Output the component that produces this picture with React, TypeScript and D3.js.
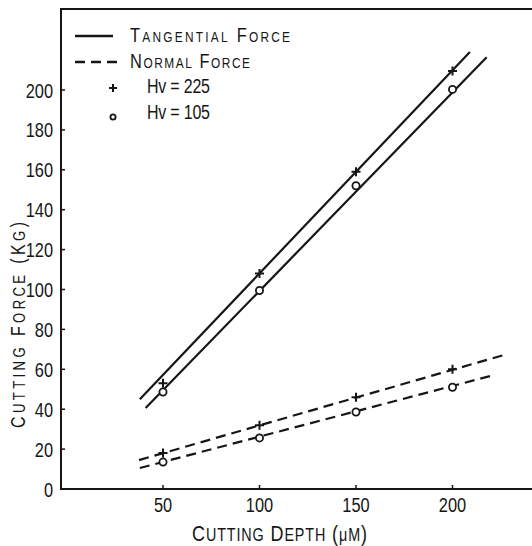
import { useEffect, useRef } from 'react';
import * as d3 from 'd3';

// cutting depth (um) where measurements were taken
const depths = [50, 100, 150, 200];

// measured forces (kg)
const tangential225 = [53, 108, 159, 209.5];
const tangential105 = [48.6, 99.5, 152, 200.3];
const normal225 = [18, 32, 46, 60];
const normal105 = [13.5, 25.6, 38.6, 51];

// drawn fit lines: [x0, y0, x1, y1] in data units
const fitTangential225 = [38, 45, 209, 219];
const fitTangential105 = [41, 40.6, 217.7, 216.4];
const fitNormal225 = [37.6, 14.5, 226, 67];
const fitNormal105 = [38, 10.5, 221, 57];

const yTicks = [0, 20, 40, 60, 80, 100, 120, 140, 160, 180, 200];
const xTicks = [50, 100, 150, 200];

const seriesLabels = ['Tangential Force', 'Normal Force'];
const markerLabels = ['Hv = 225', 'Hv = 105'];
const xTitle = 'Cutting Depth (\u03bcm)';
const yTitle = 'Cutting Force (Kg)';

const FONT = "'Liberation Sans', Arimo, sans-serif";
const INK = '#161616';
const SX = 0.82;

// split text into runs: capitals big, lower case drawn as small capitals
const smallCapRuns = (text: string) => {
    const runs: { t: string; big: boolean }[] = [];
    for (const ch of text) {
        const lower = ch !== ch.toUpperCase() || ch === '\u03bc';
        const t = lower && ch !== '\u03bc' ? ch.toUpperCase() : ch;
        const last = runs[runs.length - 1];
        if (last && last.big === !lower) last.t += t;
        else runs.push({ t, big: !lower });
    }
    return runs;
};

// spread letters so the (narrowed) text covers len pixels
const spread = (txt: any, len: number, chars: number) => {
    const node = txt.node() as SVGTextElement;
    const natural = node.getComputedTextLength();
    const ls = (len / SX - natural) / Math.max(1, chars - 1);
    txt.attr('letter-spacing', ls);
    return txt;
};

const appendSmallCaps = (sel: any, text: string, big: number, small: number, len: number, transform: string) => {
    const txt = sel.append('text')
        .attr('font-family', FONT)
        .attr('fill', INK)
        .attr('transform', `${transform} scale(${SX},1)`);
    smallCapRuns(text).forEach(r => {
        txt.append('tspan').attr('font-size', r.big ? big : small).text(r.t);
    });
    return spread(txt, len, text.length);
};

const App = () => {
    const ref = useRef<SVGSVGElement | null>(null);

    useEffect(() => {
        const svg = d3.select(ref.current);
        svg.selectAll('*').remove();

        const x = d3.scaleLinear().domain([0, 240]).range([66.5, 529.7]);
        const y = d3.scaleLinear().domain([0, 240]).range([489, 10.2]);
        const axisX = 61;

        // frame: left, bottom and top, open on the right
        svg.append('path')
            .attr('d', `M532,9 H${axisX} V${y(0)} H532`)
            .attr('fill', 'none')
            .attr('stroke', INK)
            .attr('stroke-width', 2);

        // y ticks + labels
        const yAxis = svg.append('g');
        yAxis.selectAll('line')
            .data(yTicks.filter(d => d > 0))
            .enter()
            .append('line')
            .attr('x1', axisX)
            .attr('x2', axisX + 4)
            .attr('y1', d => y(d))
            .attr('y2', d => y(d))
            .attr('stroke', INK)
            .attr('stroke-width', 1.5);
        yAxis.selectAll('text')
            .data(yTicks)
            .enter()
            .append('text')
            .attr('transform', d => `translate(53,${y(d) + 7.5}) scale(0.8,1)`)
            .attr('text-anchor', 'end')
            .attr('font-family', FONT)
            .attr('font-size', 20.5)
            .attr('fill', INK)
            .text(d => d);

        // x ticks + labels
        const xAxis = svg.append('g');
        xAxis.selectAll('line')
            .data(xTicks)
            .enter()
            .append('line')
            .attr('x1', d => x(d))
            .attr('x2', d => x(d))
            .attr('y1', y(0))
            .attr('y2', y(0) - 4)
            .attr('stroke', INK)
            .attr('stroke-width', 1.5);
        xAxis.selectAll('text')
            .data(xTicks)
            .enter()
            .append('text')
            .attr('transform', d => `translate(${x(d)},512) scale(0.8,1)`)
            .attr('text-anchor', 'middle')
            .attr('font-family', FONT)
            .attr('font-size', 20.5)
            .attr('fill', INK)
            .text(d => d);

        // axis titles
        appendSmallCaps(svg, xTitle, 22, 17.5, 175, 'translate(192,541)');
        appendSmallCaps(svg, yTitle, 19.5, 16, 206, 'translate(25,428) rotate(-90)');

        // fit lines
        const fits = [
            { f: fitTangential225, dash: null },
            { f: fitTangential105, dash: null },
            { f: fitNormal225, dash: '10,6' },
            { f: fitNormal105, dash: '10,6' },
        ];
        svg.append('g')
            .selectAll('line')
            .data(fits)
            .enter()
            .append('line')
            .attr('x1', d => x(d.f[0]))
            .attr('y1', d => y(d.f[1]))
            .attr('x2', d => x(d.f[2]))
            .attr('y2', d => y(d.f[3]))
            .attr('stroke', INK)
            .attr('stroke-width', 2.2)
            .attr('stroke-dasharray', d => d.dash);

        // markers
        const plusPts = depths.flatMap((d, i) => [[d, tangential225[i]], [d, normal225[i]]]);
        const circlePts = depths.flatMap((d, i) => [[d, tangential105[i]], [d, normal105[i]]]);

        svg.append('g')
            .selectAll('path')
            .data(plusPts)
            .enter()
            .append('path')
            .attr('d', d => `M${x(d[0]) - 4.5},${y(d[1])} h9 M${x(d[0])},${y(d[1]) - 4.5} v9`)
            .attr('stroke', INK)
            .attr('stroke-width', 2);

        svg.append('g')
            .selectAll('circle')
            .data(circlePts)
            .enter()
            .append('circle')
            .attr('cx', d => x(d[0]))
            .attr('cy', d => y(d[1]))
            .attr('r', 3.6)
            .attr('fill', '#fff')
            .attr('stroke', INK)
            .attr('stroke-width', 1.8);

        // legend
        const lg = svg.append('g');
        lg.append('line').attr('x1', 75).attr('x2', 113).attr('y1', 36).attr('y2', 36)
            .attr('stroke', INK).attr('stroke-width', 2.4);
        lg.append('line').attr('x1', 75).attr('x2', 118).attr('y1', 62).attr('y2', 62)
            .attr('stroke', INK).attr('stroke-width', 2.4).attr('stroke-dasharray', '10,6');
        lg.append('path').attr('d', 'M109,88 h8 M113,84 v8')
            .attr('stroke', INK).attr('stroke-width', 2);
        lg.append('circle').attr('cx', 113).attr('cy', 117).attr('r', 2.6)
            .attr('fill', '#fff').attr('stroke', INK).attr('stroke-width', 1.8);

        appendSmallCaps(lg, seriesLabels[0], 20, 14.5, 160, 'translate(130,42)');
        appendSmallCaps(lg, seriesLabels[1], 20, 14.5, 120, 'translate(130,68)');

        markerLabels.forEach((label, i) => {
            const t = lg.append('text')
                .attr('transform', `translate(147,${i === 0 ? 93 : 119}) scale(${SX},1)`)
                .attr('font-family', FONT)
                .attr('font-size', 19.5)
                .attr('fill', INK)
                .text(label);
            spread(t, 63, label.length);
        });
    }, []);

    return (
        <svg
            ref={ref}
            width={532}
            height={546}
            style={{ position: 'absolute', left: 0, top: 0, background: '#fff' }}
        />
    );
};

export default App;
